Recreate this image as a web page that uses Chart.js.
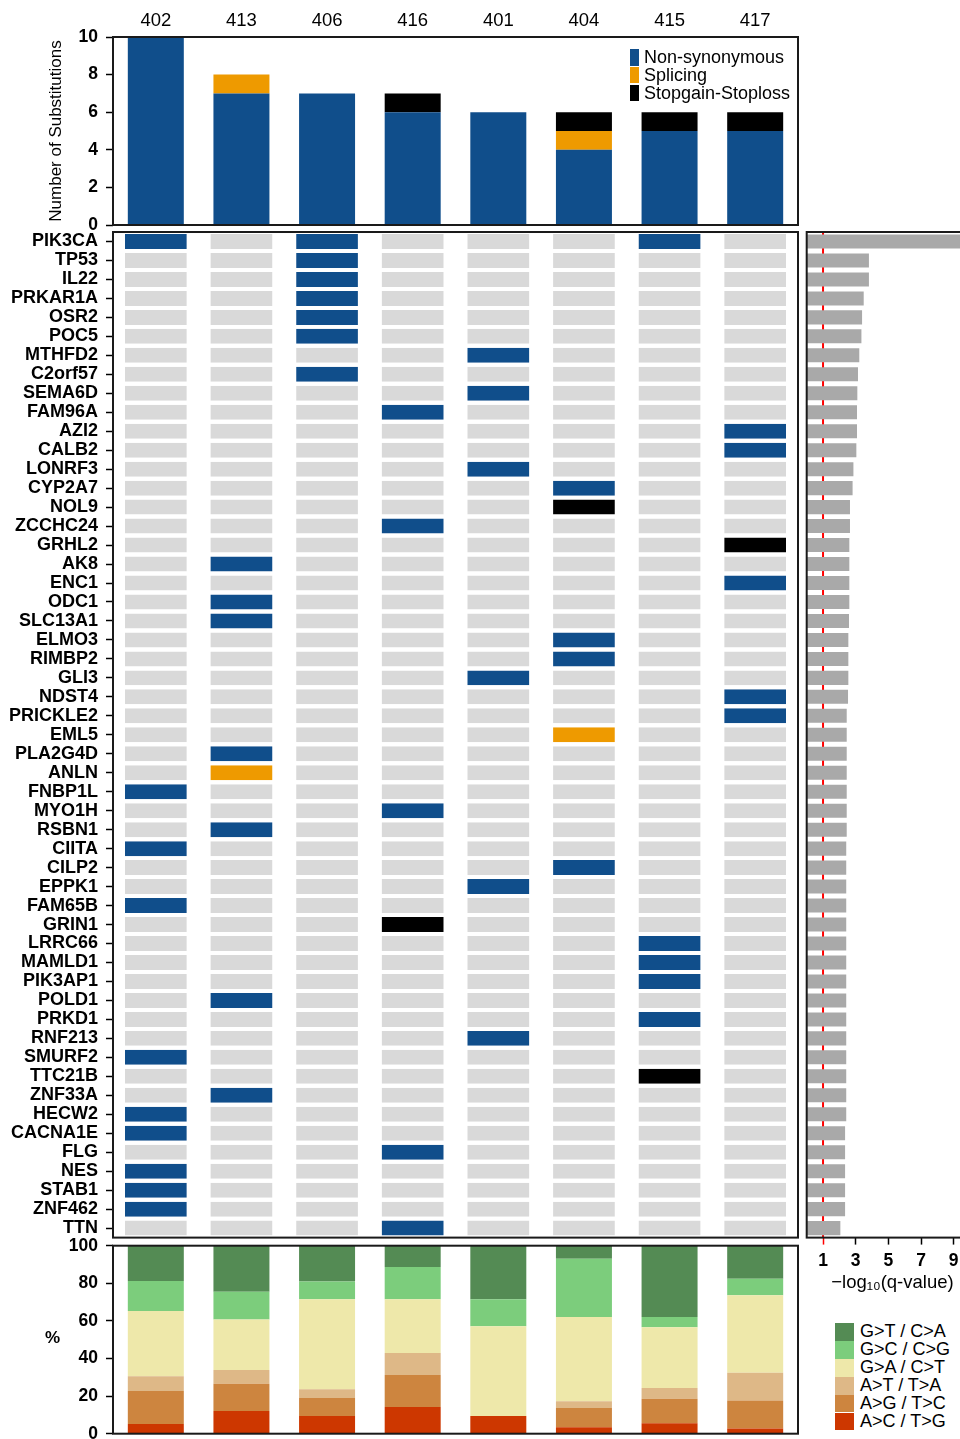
<!DOCTYPE html>
<html>
<head>
<meta charset="utf-8">
<title>Substitutions per sample</title>
<script src="https://cdn.jsdelivr.net/npm/chart.js@4.4.1/dist/chart.umd.min.js"></script>
<style>
  html, body { margin: 0; padding: 0; background: #fff; }
  #wrap { position: relative; width: 960px; height: 1439px; overflow: hidden;
          font-family: "Liberation Sans", Arial, Helvetica, sans-serif; color: #000; }
  #wrap canvas { position: absolute; }
  .key { position: absolute; font-size: 18px; white-space: nowrap; }
  .key .sw { position: absolute; left: 0; }
  .key .tx { position: absolute; }
  #pct { position: absolute; left: 45px; top: 1329px; font-size: 17px; font-weight: bold; line-height: 17px; }
</style>
</head>
<body>
<div id="wrap">
  <canvas id="topChart" width="800" height="250" style="left:0;top:0"></canvas>
  <canvas id="gridChart" width="800" height="1056" style="left:0;top:207px"></canvas>
  <canvas id="qChart" width="180" height="1097" style="left:800px;top:207px"></canvas>
  <canvas id="subsChart" width="800" height="240" style="left:0;top:1220px"></canvas>
  <div id="typeKey" class="key" style="left:630px;top:49px"></div>
  <div id="subsKey" class="key" style="left:835px;top:1323px"></div>
  <div id="pct">%</div>
</div>
<script>
// samples in plot order
const samples = ['402', '413', '406', '416', '401', '404', '415', '417'];

// genes, top to bottom
const genes = ['PIK3CA', 'TP53', 'IL22', 'PRKAR1A', 'OSR2', 'POC5', 'MTHFD2', 'C2orf57', 'SEMA6D',
  'FAM96A', 'AZI2', 'CALB2', 'LONRF3', 'CYP2A7', 'NOL9', 'ZCCHC24', 'GRHL2', 'AK8', 'ENC1', 'ODC1',
  'SLC13A1', 'ELMO3', 'RIMBP2', 'GLI3', 'NDST4', 'PRICKLE2', 'EML5', 'PLA2G4D', 'ANLN', 'FNBP1L',
  'MYO1H', 'RSBN1', 'CIITA', 'CILP2', 'EPPK1', 'FAM65B', 'GRIN1', 'LRRC66', 'MAMLD1', 'PIK3AP1',
  'POLD1', 'PRKD1', 'RNF213', 'SMURF2', 'TTC21B', 'ZNF33A', 'HECW2', 'CACNA1E', 'FLG', 'NES',
  'STAB1', 'ZNF462', 'TTN'];

// substitutions per sample (top panel)
const nonSynCounts = [10, 7, 7, 6, 6, 4, 5, 5];
const splicingCounts = [0, 1, 0, 0, 0, 1, 0, 0];
const stopCounts = [0, 0, 0, 1, 0, 1, 1, 1];

// [gene, sample] hits in the grid
const nonSynHits = [
  ['PIK3CA', '402'], ['FNBP1L', '402'], ['CIITA', '402'], ['FAM65B', '402'], ['SMURF2', '402'],
  ['HECW2', '402'], ['CACNA1E', '402'], ['NES', '402'], ['STAB1', '402'], ['ZNF462', '402'],
  ['AK8', '413'], ['ODC1', '413'], ['SLC13A1', '413'], ['PLA2G4D', '413'], ['RSBN1', '413'],
  ['POLD1', '413'], ['ZNF33A', '413'],
  ['PIK3CA', '406'], ['TP53', '406'], ['IL22', '406'], ['PRKAR1A', '406'], ['OSR2', '406'],
  ['POC5', '406'], ['C2orf57', '406'],
  ['FAM96A', '416'], ['ZCCHC24', '416'], ['MYO1H', '416'], ['FLG', '416'], ['TTN', '416'],
  ['MTHFD2', '401'], ['SEMA6D', '401'], ['LONRF3', '401'], ['GLI3', '401'], ['EPPK1', '401'],
  ['RNF213', '401'],
  ['CYP2A7', '404'], ['ELMO3', '404'], ['RIMBP2', '404'], ['CILP2', '404'],
  ['PIK3CA', '415'], ['LRRC66', '415'], ['MAMLD1', '415'], ['PIK3AP1', '415'], ['PRKD1', '415'],
  ['AZI2', '417'], ['CALB2', '417'], ['ENC1', '417'], ['NDST4', '417'], ['PRICKLE2', '417']
];
const splicingHits = [['EML5', '404'], ['ANLN', '413']];
const stopHits = [['NOL9', '404'], ['GRHL2', '417'], ['GRIN1', '416'], ['TTC21B', '415']];

// -log10(q-value) per gene (right panel)
const qScores = [10.4, 3.81, 3.81, 3.49, 3.39, 3.35, 3.22, 3.14, 3.10, 3.08, 3.08, 3.04, 2.86,
  2.81, 2.65, 2.65, 2.61, 2.61, 2.61, 2.61, 2.59, 2.55, 2.55, 2.55, 2.53, 2.45, 2.45, 2.45,
  2.45, 2.45, 2.45, 2.45, 2.42, 2.42, 2.42, 2.42, 2.42, 2.42, 2.42, 2.42, 2.42, 2.42, 2.42,
  2.42, 2.42, 2.42, 2.42, 2.35, 2.35, 2.35, 2.35, 2.35, 2.06];
const qTicks = [1, 3, 5, 7, 9];
const qCutoff = 1;

// substitution spectrum, % per sample (bottom panel), stacked bottom to top
const pctAC = [5.1, 12.1, 9.4, 14.2, 9.4, 3.4, 5.5, 2.8];
const pctAG = [17.6, 14.5, 9.6, 17.0, 0, 10.3, 13.1, 14.8];
const pctAT = [7.8, 7.3, 4.6, 11.7, 0, 3.5, 5.7, 14.8];
const pctGA = [34.7, 26.9, 47.9, 28.6, 47.7, 44.9, 32.3, 41.2];
const pctGC = [16.0, 14.7, 9.5, 17.2, 14.4, 31.0, 5.5, 8.8];
const pctGT = [18.8, 24.5, 19.0, 11.3, 28.5, 6.9, 37.9, 17.6];

const BLUE = '#104e8b', ORANGE = '#ee9a00', BLACK = '#000000', EMPTY = '#d9d9d9';
const typeLabels = ['Non-synonymous', 'Splicing', 'Stopgain-Stoploss'];
const typeColours = [BLUE, ORANGE, BLACK];
const subsLabels = ['A>C / T>G', 'A>G / T>C', 'A>T / T>A', 'G>A / C>T', 'G>C / C>G', 'G>T / C>A'];
const subsColours = ['#cd3700', '#cd853f', '#deb887', '#eee8aa', '#7ccd7c', '#548b54'];

Chart.defaults.font.family = '"Liberation Sans", Arial, Helvetica, sans-serif';
Chart.defaults.color = '#000';

function hit(list, gene, sample) {
  return list.some(h => h[0] === gene && h[1] === sample);
}

function cellColour(gene, sample) {
  if (hit(stopHits, gene, sample)) return BLACK;
  if (hit(splicingHits, gene, sample)) return ORANGE;
  if (hit(nonSynHits, gene, sample)) return BLUE;
  return EMPTY;
}

// box round the plot area, like R's box()
const framePlugin = {
  id: 'frame',
  afterDraw(chart) {
    const a = chart.chartArea, c = chart.ctx;
    c.save();
    c.strokeStyle = '#1a1a1a';
    c.lineWidth = 2;
    c.strokeRect(a.left, a.top, a.right - a.left, a.bottom - a.top);
    c.restore();
  }
};

// red line at q = 0.1
const cutoffPlugin = {
  id: 'cutoff',
  beforeDatasetsDraw(chart) {
    const a = chart.chartArea, c = chart.ctx;
    const x = chart.scales.x.getPixelForValue(qCutoff);
    c.save();
    c.strokeStyle = '#ff0000';
    c.lineWidth = 2;
    c.beginPath();
    c.moveTo(x, a.top);
    c.lineTo(x, a.bottom);
    c.stroke();
    c.restore();
  }
};

const boldTicks = { size: 17.5, weight: 'bold' };
const tickMarks = { drawOnChartArea: false, tickLength: 7, tickWidth: 1.5, tickColor: '#000' };
const noEvents = { responsive: false, animation: false, events: [] };

// top: substitutions per sample
new Chart(document.getElementById('topChart'), {
  type: 'bar',
  data: {
    labels: samples,
    datasets: [
      { label: typeLabels[0], data: nonSynCounts, backgroundColor: typeColours[0] },
      { label: typeLabels[1], data: splicingCounts, backgroundColor: typeColours[1] },
      { label: typeLabels[2], data: stopCounts, backgroundColor: typeColours[2] }
    ]
  },
  options: {
    ...noEvents,
    layout: { padding: { top: 0, left: 0, right: 2, bottom: 25 } },
    datasets: { bar: { barPercentage: 0.654, categoryPercentage: 1 } },
    plugins: { legend: { display: false }, tooltip: { enabled: false } },
    scales: {
      x: {
        position: 'top', stacked: true,
        grid: { display: false, drawTicks: false }, border: { display: false },
        ticks: { padding: 5, font: { size: 18.5 } },
        afterFit(s) { s.height = 37; }
      },
      y: {
        stacked: true, min: 0, max: 10,
        ticks: { stepSize: 2, padding: 8, font: boldTicks },
        grid: tickMarks, border: { display: false },
        title: { display: true, text: 'Number of Substitutions', font: { size: 17 }, padding: { top: 46.5, bottom: 0 } },
        afterFit(s) { s.width = 113; }
      }
    }
  },
  plugins: [framePlugin]
});

// middle: gene x sample grid
new Chart(document.getElementById('gridChart'), {
  type: 'bar',
  data: {
    labels: genes,
    datasets: samples.map(s => ({
      label: s,
      data: genes.map(() => 1),
      backgroundColor: genes.map(g => cellColour(g, s)),
      borderColor: '#ffffff',
      borderWidth: { left: 12, right: 12, top: 0, bottom: 0 },
      borderSkipped: false
    }))
  },
  options: {
    ...noEvents,
    indexAxis: 'y',
    layout: { padding: { top: 25, left: 0, right: 2, bottom: 25.4 } },
    datasets: { bar: { barPercentage: 0.79, categoryPercentage: 1 } },
    plugins: { legend: { display: false }, tooltip: { enabled: false } },
    scales: {
      x: { stacked: true, min: 0, max: samples.length, display: false },
      y: {
        stacked: true,
        ticks: { autoSkip: false, padding: 8, font: { size: 18, weight: 'bold' } },
        grid: { ...tickMarks, offset: false }, border: { display: false },
        afterFit(s) { s.width = 113; }
      }
    }
  },
  plugins: [framePlugin]
});

// right: -log10(q-value)
new Chart(document.getElementById('qChart'), {
  type: 'bar',
  data: {
    labels: genes,
    datasets: [{ data: qScores, backgroundColor: '#a9a9a9', barPercentage: 0.74, categoryPercentage: 1 }]
  },
  options: {
    ...noEvents,
    indexAxis: 'y',
    layout: { padding: { top: 25, left: 6.7, right: 1.8, bottom: 10.4 } },
    plugins: { legend: { display: false }, tooltip: { enabled: false } },
    scales: {
      y: { display: false },
      x: {
        min: 0, max: 10.5,
        afterBuildTicks(s) { s.ticks = qTicks.map(v => ({ value: v })); },
        ticks: { padding: 6, font: boldTicks },
        grid: { ...tickMarks, tickColor: c => (c.tick && c.tick.value === qCutoff ? '#ff0000' : '#000') },
        border: { display: false },
        title: { display: true, text: '\u2212log\u2081\u2080(q-value)', font: { size: 18.5 }, padding: { top: 0, bottom: 0 } },
        afterFit(s) { s.height = 56; }
      }
    }
  },
  plugins: [cutoffPlugin, framePlugin]
});

// bottom: substitution spectrum
const pctSeries = [pctAC, pctAG, pctAT, pctGA, pctGC, pctGT];
new Chart(document.getElementById('subsChart'), {
  type: 'bar',
  data: {
    labels: samples,
    datasets: pctSeries.map((d, i) => ({ label: subsLabels[i], data: d, backgroundColor: subsColours[i] }))
  },
  options: {
    ...noEvents,
    layout: { padding: { top: 25.7, left: 0, right: 2, bottom: 26.3 } },
    datasets: { bar: { barPercentage: 0.654, categoryPercentage: 1 } },
    plugins: { legend: { display: false }, tooltip: { enabled: false } },
    scales: {
      x: { stacked: true, display: false },
      y: {
        stacked: true, min: 0, max: 100,
        ticks: { stepSize: 20, padding: 8, font: boldTicks },
        grid: tickMarks, border: { display: false },
        afterFit(s) { s.width = 113; }
      }
    }
  },
  plugins: [framePlugin]
});

// keys
function buildKey(el, labels, colours, rowH, swW, swH, textLeft) {
  el.innerHTML = labels.map((l, i) =>
    '<div class="sw" style="top:' + (i * rowH) + 'px;width:' + swW + 'px;height:' + swH + 'px;background:' + colours[i] + '"></div>' +
    '<div class="tx" style="left:' + textLeft + 'px;top:' + (i * rowH) + 'px;line-height:' + rowH + 'px"></div>'
  ).join('');
  el.querySelectorAll('.tx').forEach((t, i) => { t.textContent = labels[i]; });
}
buildKey(document.getElementById('typeKey'), typeLabels, typeColours, 17.8, 9, 16.5, 14);
buildKey(document.getElementById('subsKey'), subsLabels.slice().reverse(), subsColours.slice().reverse(), 17.9, 19, 17.9, 25);
</script>
</body>
</html>
